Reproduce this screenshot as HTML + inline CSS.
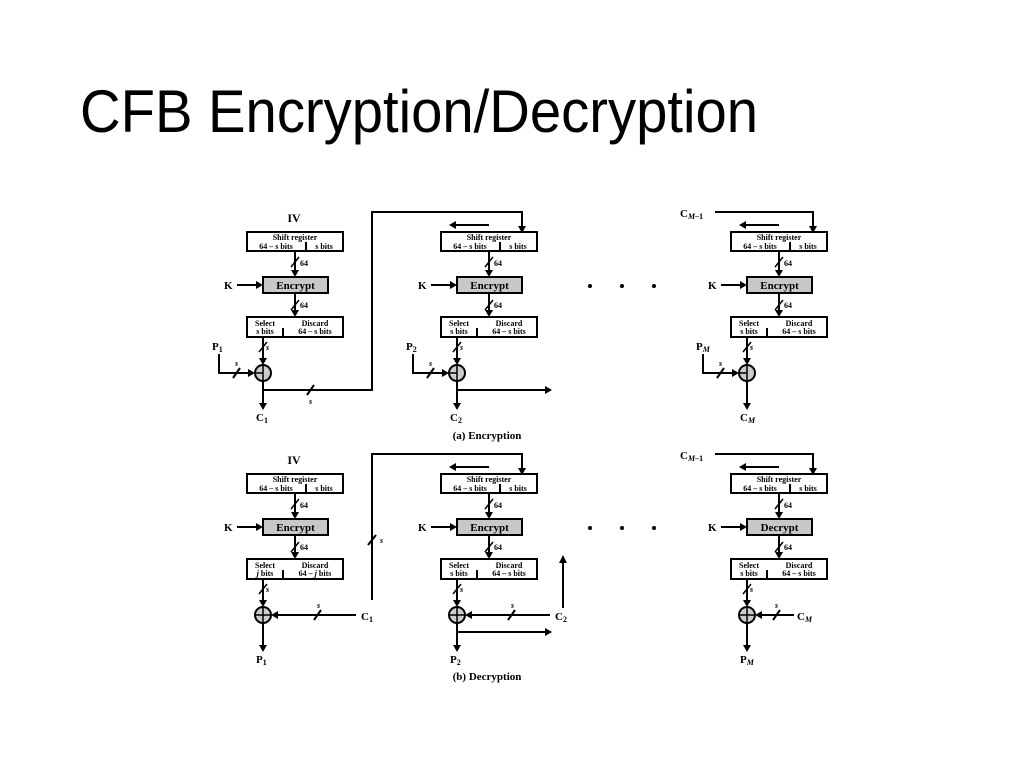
<!DOCTYPE html>
<html><head><meta charset="utf-8"><style>
html,body{margin:0;padding:0;background:#fff;}
svg{display:block}
.t{font-family:"Liberation Serif",serif;font-weight:bold;fill:#000}
.s8{font-size:8px}
.s11{font-size:11px}
.s12{font-size:12px}
</style></head><body>
<svg width="1024" height="767" viewBox="0 0 1024 767" xmlns="http://www.w3.org/2000/svg">
<text x="80" y="132" font-family="Liberation Sans, sans-serif" font-size="60" textLength="678" lengthAdjust="spacingAndGlyphs">CFB Encryption/Decryption</text>

<g stroke="#000" stroke-width="2" fill="none">
<!-- ENC long connector -->
<path d="M263 390 H372 V212 H522 V226"/>
<!-- DEC long connector -->
<path d="M372 600 V454 H522 V468"/>
<!-- enc unit2 output -->
<path d="M457 390 H545"/>
<!-- dec unit2 output -->
<path d="M457 632 H545"/>
<!-- dec C2 up -->
<path d="M563 608 V563"/>
<!-- CM-1 lines -->
<path d="M715 212 H813 V226"/>
<path d="M715 454 H813 V468"/>
<!-- left arrows above shift regs -->
<path d="M489 225 H456 M779 225 H746 M489 467 H456 M779 467 H746"/>
<!-- slash on long lines -->
<path d="M307 395 L314 385 M368 545 L376 535"/>
</g>
<g fill="#000">
<polygon points="518,226 526,226 522,233"/>
<polygon points="518,468 526,468 522,475"/>
<polygon points="809,226 817,226 813,233"/>
<polygon points="809,468 817,468 813,475"/>
<polygon points="545,386 552,390 545,394"/>
<polygon points="545,628 552,632 545,636"/>
<polygon points="559,563 567,563 563,555"/>
<polygon points="456,221 449,225 456,229"/>
<polygon points="746,221 739,225 746,229"/>
<polygon points="456,463 449,467 456,471"/>
<polygon points="746,463 739,467 746,471"/>
<circle cx="590" cy="286" r="2"/><circle cx="622" cy="286" r="2"/><circle cx="654" cy="286" r="2"/>
<circle cx="590" cy="528" r="2"/><circle cx="622" cy="528" r="2"/><circle cx="654" cy="528" r="2"/>
</g>
<text class="t s8" x="309" y="404" font-style="italic">s</text>
<text class="t s8" x="380" y="543" font-style="italic">s</text>
<text class="t s12" x="294" y="222" text-anchor="middle">IV</text>
<text class="t s12" x="294" y="464" text-anchor="middle">IV</text>
<text class="t s11" x="680" y="217">C<tspan font-size="8" font-style="italic" dy="2">M</tspan><tspan font-size="8" dy="0">–1</tspan></text>
<text class="t s11" x="680" y="459">C<tspan font-size="8" font-style="italic" dy="2">M</tspan><tspan font-size="8">–1</tspan></text>
<text class="t s11" x="487" y="439" text-anchor="middle" font-weight="normal" style="font-weight:bold">(a) Encryption</text>
<text class="t s11" x="487" y="680" text-anchor="middle">(b) Decryption</text>

<!-- ===== Units: encryption row ===== -->
<!-- unit template repeated with translate -->
<g transform="translate(0,0)">
<g stroke="#000" stroke-width="2" fill="#fff">
<rect x="247" y="232" width="96" height="19"/>
<rect x="263" y="277" width="65" height="16" fill="#c8c8c8"/>
<rect x="247" y="317" width="96" height="20"/>
<circle cx="263" cy="373" r="8" fill="#ccc"/>
</g>
<g stroke="#000" stroke-width="2" fill="none">
<path d="M306 242 V251 M283 328 V337"/>
<path d="M295 251 V270 M295 293 V310 M263 337 V358 M263 381 V403 M237 285 H256"/>
<path d="M255 373 H263 M263 365 V381" stroke-width="1.5"/>
<path d="M291 267 L299 257 M291 310 L299 300 M259 352 L267 342" stroke-width="1.5"/>
<path d="M219 354 V373 H248 M233 378 L240 368" />
</g>
<g fill="#000">
<polygon points="291,270 299,270 295,277"/><polygon points="291,310 299,310 295,317"/>
<polygon points="259,358 267,358 263,365"/><polygon points="259,403 267,403 263,410"/>
<polygon points="256,281 263,285 256,289"/><polygon points="248,369 255,373 248,377"/>
</g>
<text class="t s8" x="295" y="240" text-anchor="middle">Shift register</text>
<text class="t s8" x="276" y="249" text-anchor="middle">64 – s bits</text>
<text class="t s8" x="324" y="249" text-anchor="middle">s bits</text>
<text class="t s11" x="295.5" y="289" text-anchor="middle">Encrypt</text>
<text class="t s8" x="300" y="266">64</text><text class="t s8" x="300" y="308">64</text>
<text class="t s8" x="266" y="350" font-style="italic">s</text>
<text class="t s8" x="235" y="366" font-style="italic">s</text>
<text class="t s11" x="224" y="289">K</text>
<text class="t s8" x="265" y="326" text-anchor="middle">Select</text>
<text class="t s8" x="265" y="334" text-anchor="middle">s bits</text>
<text class="t s8" x="315" y="326" text-anchor="middle">Discard</text>
<text class="t s8" x="315" y="334" text-anchor="middle">64 – s bits</text>
<text class="t s11" x="212" y="350">P<tspan font-size="8" dy="2">1</tspan></text>
<text class="t s11" x="256" y="421">C<tspan font-size="8" dy="2">1</tspan></text>
</g>

<g transform="translate(194,0)">
<g stroke="#000" stroke-width="2" fill="#fff">
<rect x="247" y="232" width="96" height="19"/>
<rect x="263" y="277" width="65" height="16" fill="#c8c8c8"/>
<rect x="247" y="317" width="96" height="20"/>
<circle cx="263" cy="373" r="8" fill="#ccc"/>
</g>
<g stroke="#000" stroke-width="2" fill="none">
<path d="M306 242 V251 M283 328 V337"/>
<path d="M295 251 V270 M295 293 V310 M263 337 V358 M263 381 V403 M237 285 H256"/>
<path d="M255 373 H263 M263 365 V381" stroke-width="1.5"/>
<path d="M291 267 L299 257 M291 310 L299 300 M259 352 L267 342" stroke-width="1.5"/>
<path d="M219 354 V373 H248 M233 378 L240 368" />
</g>
<g fill="#000">
<polygon points="291,270 299,270 295,277"/><polygon points="291,310 299,310 295,317"/>
<polygon points="259,358 267,358 263,365"/><polygon points="259,403 267,403 263,410"/>
<polygon points="256,281 263,285 256,289"/><polygon points="248,369 255,373 248,377"/>
</g>
<text class="t s8" x="295" y="240" text-anchor="middle">Shift register</text>
<text class="t s8" x="276" y="249" text-anchor="middle">64 – s bits</text>
<text class="t s8" x="324" y="249" text-anchor="middle">s bits</text>
<text class="t s11" x="295.5" y="289" text-anchor="middle">Encrypt</text>
<text class="t s8" x="300" y="266">64</text><text class="t s8" x="300" y="308">64</text>
<text class="t s8" x="266" y="350" font-style="italic">s</text>
<text class="t s8" x="235" y="366" font-style="italic">s</text>
<text class="t s11" x="224" y="289">K</text>
<text class="t s8" x="265" y="326" text-anchor="middle">Select</text>
<text class="t s8" x="265" y="334" text-anchor="middle">s bits</text>
<text class="t s8" x="315" y="326" text-anchor="middle">Discard</text>
<text class="t s8" x="315" y="334" text-anchor="middle">64 – s bits</text>
<text class="t s11" x="212" y="350">P<tspan font-size="8" dy="2">2</tspan></text>
<text class="t s11" x="256" y="421">C<tspan font-size="8" dy="2">2</tspan></text>
</g>

<g transform="translate(484,0)">
<g stroke="#000" stroke-width="2" fill="#fff">
<rect x="247" y="232" width="96" height="19"/>
<rect x="263" y="277" width="65" height="16" fill="#c8c8c8"/>
<rect x="247" y="317" width="96" height="20"/>
<circle cx="263" cy="373" r="8" fill="#ccc"/>
</g>
<g stroke="#000" stroke-width="2" fill="none">
<path d="M306 242 V251 M283 328 V337"/>
<path d="M295 251 V270 M295 293 V310 M263 337 V358 M263 381 V403 M237 285 H256"/>
<path d="M255 373 H263 M263 365 V381" stroke-width="1.5"/>
<path d="M291 267 L299 257 M291 310 L299 300 M259 352 L267 342" stroke-width="1.5"/>
<path d="M219 354 V373 H248 M233 378 L240 368" />
</g>
<g fill="#000">
<polygon points="291,270 299,270 295,277"/><polygon points="291,310 299,310 295,317"/>
<polygon points="259,358 267,358 263,365"/><polygon points="259,403 267,403 263,410"/>
<polygon points="256,281 263,285 256,289"/><polygon points="248,369 255,373 248,377"/>
</g>
<text class="t s8" x="295" y="240" text-anchor="middle">Shift register</text>
<text class="t s8" x="276" y="249" text-anchor="middle">64 – s bits</text>
<text class="t s8" x="324" y="249" text-anchor="middle">s bits</text>
<text class="t s11" x="295.5" y="289" text-anchor="middle">Encrypt</text>
<text class="t s8" x="300" y="266">64</text><text class="t s8" x="300" y="308">64</text>
<text class="t s8" x="266" y="350" font-style="italic">s</text>
<text class="t s8" x="235" y="366" font-style="italic">s</text>
<text class="t s11" x="224" y="289">K</text>
<text class="t s8" x="265" y="326" text-anchor="middle">Select</text>
<text class="t s8" x="265" y="334" text-anchor="middle">s bits</text>
<text class="t s8" x="315" y="326" text-anchor="middle">Discard</text>
<text class="t s8" x="315" y="334" text-anchor="middle">64 – s bits</text>
<text class="t s11" x="212" y="350">P<tspan font-size="8" font-style="italic" dy="2">M</tspan></text>
<text class="t s11" x="256" y="421">C<tspan font-size="8" font-style="italic" dy="2">M</tspan></text>
</g>

<!-- ===== Decryption row ===== -->
<g transform="translate(0,242)">
<g stroke="#000" stroke-width="2" fill="#fff">
<rect x="247" y="232" width="96" height="19"/>
<rect x="263" y="277" width="65" height="16" fill="#c8c8c8"/>
<rect x="247" y="317" width="96" height="20"/>
<circle cx="263" cy="373" r="8" fill="#ccc"/>
</g>
<g stroke="#000" stroke-width="2" fill="none">
<path d="M306 242 V251 M283 328 V337"/>
<path d="M295 251 V270 M295 293 V310 M263 337 V358 M263 381 V403 M237 285 H256"/>
<path d="M255 373 H271 M263 365 V381" stroke-width="1.5"/>
<path d="M291 267 L299 257 M291 310 L299 300 M259 352 L267 342" stroke-width="1.5"/>
<path d="M278 373 H356 M314 378 L321 368"/>
</g>
<g fill="#000">
<polygon points="291,270 299,270 295,277"/><polygon points="291,310 299,310 295,317"/>
<polygon points="259,358 267,358 263,365"/><polygon points="259,403 267,403 263,410"/>
<polygon points="256,281 263,285 256,289"/><polygon points="278,369 271,373 278,377"/>
</g>
<text class="t s8" x="295" y="240" text-anchor="middle">Shift register</text>
<text class="t s8" x="276" y="249" text-anchor="middle">64 – s bits</text>
<text class="t s8" x="324" y="249" text-anchor="middle">s bits</text>
<text class="t s11" x="295.5" y="289" text-anchor="middle">Encrypt</text>
<text class="t s8" x="300" y="266">64</text><text class="t s8" x="300" y="308">64</text>
<text class="t s8" x="266" y="350" font-style="italic">s</text>
<text class="t s8" x="317" y="366" font-style="italic">s</text>
<text class="t s11" x="224" y="289">K</text>
<text class="t s8" x="265" y="326" text-anchor="middle">Select</text>
<text class="t s8" x="265" y="334" text-anchor="middle"><tspan font-style="italic">j</tspan> bits</text>
<text class="t s8" x="315" y="326" text-anchor="middle">Discard</text>
<text class="t s8" x="315" y="334" text-anchor="middle">64 – <tspan font-style="italic">j</tspan> bits</text>
<text class="t s11" x="361" y="378">C<tspan font-size="8" dy="2">1</tspan></text>
<text class="t s11" x="256" y="421">P<tspan font-size="8" dy="2">1</tspan></text>
</g>

<g transform="translate(194,242)">
<g stroke="#000" stroke-width="2" fill="#fff">
<rect x="247" y="232" width="96" height="19"/>
<rect x="263" y="277" width="65" height="16" fill="#c8c8c8"/>
<rect x="247" y="317" width="96" height="20"/>
<circle cx="263" cy="373" r="8" fill="#ccc"/>
</g>
<g stroke="#000" stroke-width="2" fill="none">
<path d="M306 242 V251 M283 328 V337"/>
<path d="M295 251 V270 M295 293 V310 M263 337 V358 M263 381 V403 M237 285 H256"/>
<path d="M255 373 H271 M263 365 V381" stroke-width="1.5"/>
<path d="M291 267 L299 257 M291 310 L299 300 M259 352 L267 342" stroke-width="1.5"/>
<path d="M278 373 H356 M314 378 L321 368"/>
</g>
<g fill="#000">
<polygon points="291,270 299,270 295,277"/><polygon points="291,310 299,310 295,317"/>
<polygon points="259,358 267,358 263,365"/><polygon points="259,403 267,403 263,410"/>
<polygon points="256,281 263,285 256,289"/><polygon points="278,369 271,373 278,377"/>
</g>
<text class="t s8" x="295" y="240" text-anchor="middle">Shift register</text>
<text class="t s8" x="276" y="249" text-anchor="middle">64 – s bits</text>
<text class="t s8" x="324" y="249" text-anchor="middle">s bits</text>
<text class="t s11" x="295.5" y="289" text-anchor="middle">Encrypt</text>
<text class="t s8" x="300" y="266">64</text><text class="t s8" x="300" y="308">64</text>
<text class="t s8" x="266" y="350" font-style="italic">s</text>
<text class="t s8" x="317" y="366" font-style="italic">s</text>
<text class="t s11" x="224" y="289">K</text>
<text class="t s8" x="265" y="326" text-anchor="middle">Select</text>
<text class="t s8" x="265" y="334" text-anchor="middle">s bits</text>
<text class="t s8" x="315" y="326" text-anchor="middle">Discard</text>
<text class="t s8" x="315" y="334" text-anchor="middle">64 – s bits</text>
<text class="t s11" x="361" y="378">C<tspan font-size="8" dy="2">2</tspan></text>
<text class="t s11" x="256" y="421">P<tspan font-size="8" dy="2">2</tspan></text>
</g>

<g transform="translate(484,242)">
<g stroke="#000" stroke-width="2" fill="#fff">
<rect x="247" y="232" width="96" height="19"/>
<rect x="263" y="277" width="65" height="16" fill="#c8c8c8"/>
<rect x="247" y="317" width="96" height="20"/>
<circle cx="263" cy="373" r="8" fill="#ccc"/>
</g>
<g stroke="#000" stroke-width="2" fill="none">
<path d="M306 242 V251 M283 328 V337"/>
<path d="M295 251 V270 M295 293 V310 M263 337 V358 M263 381 V403 M237 285 H256"/>
<path d="M255 373 H271 M263 365 V381" stroke-width="1.5"/>
<path d="M291 267 L299 257 M291 310 L299 300 M259 352 L267 342" stroke-width="1.5"/>
<path d="M278 373 H310 M289 378 L296 368"/>
</g>
<g fill="#000">
<polygon points="291,270 299,270 295,277"/><polygon points="291,310 299,310 295,317"/>
<polygon points="259,358 267,358 263,365"/><polygon points="259,403 267,403 263,410"/>
<polygon points="256,281 263,285 256,289"/><polygon points="278,369 271,373 278,377"/>
</g>
<text class="t s8" x="295" y="240" text-anchor="middle">Shift register</text>
<text class="t s8" x="276" y="249" text-anchor="middle">64 – s bits</text>
<text class="t s8" x="324" y="249" text-anchor="middle">s bits</text>
<text class="t s11" x="295.5" y="289" text-anchor="middle">Decrypt</text>
<text class="t s8" x="300" y="266">64</text><text class="t s8" x="300" y="308">64</text>
<text class="t s8" x="266" y="350" font-style="italic">s</text>
<text class="t s8" x="291" y="366" font-style="italic">s</text>
<text class="t s11" x="224" y="289">K</text>
<text class="t s8" x="265" y="326" text-anchor="middle">Select</text>
<text class="t s8" x="265" y="334" text-anchor="middle">s bits</text>
<text class="t s8" x="315" y="326" text-anchor="middle">Discard</text>
<text class="t s8" x="315" y="334" text-anchor="middle">64 – s bits</text>
<text class="t s11" x="313" y="378">C<tspan font-size="8" font-style="italic" dy="2">M</tspan></text>
<text class="t s11" x="256" y="421">P<tspan font-size="8" font-style="italic" dy="2">M</tspan></text>
</g>
</svg>
</body></html>
